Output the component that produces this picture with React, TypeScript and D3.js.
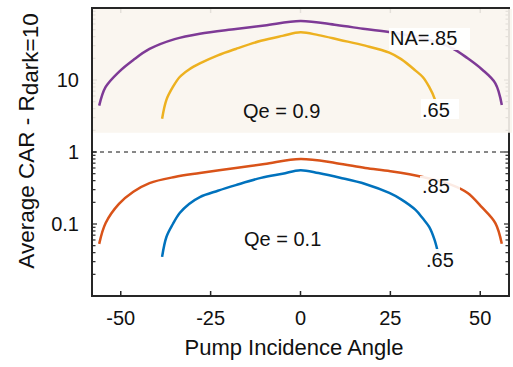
import React from "react";
import { scaleLinear, scaleLog, line, curveCatmullRom } from "d3";

// incidence angles (deg) for the two numerical apertures
const angle85 = [-56, -54.2, -50.5, -46.5, -42, -35, -28, -18, -10, 0, 10, 18, 25, 34, 42, 46.5, 50.5, 54.2, 56];
const angle65 = [-38.5, -37.3, -35.5, -33.6, -31, -28, -23, -18, -11, -5, 0, 5, 11, 18, 24.7, 28, 32, 34, 35.8, 37.3, 38.5];

// average CAR values
const qe09na85 = [4.4, 8.0, 13, 19, 27, 37, 44, 51, 57, 66, 58, 51, 46, 38, 28, 20, 14, 9, 4.5];
const qe09na65 = [2.9, 5.3, 8, 11, 14, 17, 22, 27, 35, 41, 46, 42, 36, 30, 24, 19.5, 13.5, 11, 8, 5.5, 2.9];
const qe01na85 = [0.053, 0.103, 0.19, 0.28, 0.37, 0.45, 0.51, 0.6, 0.68, 0.8, 0.7, 0.6, 0.54, 0.45, 0.35, 0.27, 0.17, 0.103, 0.053];
const qe01na65 = [0.035, 0.066, 0.1, 0.142, 0.19, 0.237, 0.29, 0.347, 0.437, 0.5, 0.56, 0.51, 0.44, 0.36, 0.27, 0.22, 0.157, 0.12, 0.091, 0.06, 0.035];

const xTicks = [-50, -25, 0, 25, 50];
const yTickLabels = [
  { v: 10, label: "10" },
  { v: 1, label: "1" },
  { v: 0.1, label: "0.1" },
];

const font = "'Liberation Sans', Arial, Helvetica, sans-serif";

const App = () => {
  const width = 513;
  const height = 367;
  const left = 92, right = 509, top = 8, bottom = 296;

  const x = scaleLinear().domain([-58, 58]).range([left, right]);
  const y = scaleLog().domain([0.01, 100]).range([bottom, top]);

  const mk = (xs: number[], ys: number[]) =>
    line<number>()
      .x((_, i) => x(xs[i]))
      .y((d) => y(d))
      .curve(curveCatmullRom.alpha(0.5))(ys) || "";

  const series = [
    { xs: angle85, ys: qe09na85, color: "#7E3A96" },
    { xs: angle65, ys: qe09na65, color: "#EDB120" },
    { xs: angle85, ys: qe01na85, color: "#D95319" },
    { xs: angle65, ys: qe01na65, color: "#0072BD" },
  ];

  // log minor ticks
  const minor: number[] = [];
  for (let e = -2; e < 2; e++) {
    for (let k = 1; k <= 9; k++) minor.push(k * Math.pow(10, e));
  }
  minor.push(100);

  const axisColor = "#262626";

  return (
    <svg width={width} height={height} style={{ position: "absolute", left: 0, top: 0 }}>
      <rect width={width} height={height} fill="#fff" />

      {/* frame */}
      <rect x={left} y={top} width={right - left} height={bottom - top} fill="none" stroke={axisColor} strokeWidth={2} />

      {/* ticks */}
      {xTicks.map((t) => (
        <g key={t}>
          <line x1={x(t)} x2={x(t)} y1={bottom} y2={bottom - 5} stroke={axisColor} strokeWidth={1.5} />
          <line x1={x(t)} x2={x(t)} y1={top} y2={top + 5} stroke={axisColor} strokeWidth={1.5} />
          <text x={x(t)} y={325} textAnchor="middle" fontSize={20} fontFamily={font} fill="#111">
            {t}
          </text>
        </g>
      ))}
      {minor.map((v, i) => {
        const major = Math.abs(Math.log10(v) - Math.round(Math.log10(v))) < 1e-9;
        const len = major ? 5 : 3.5;
        return (
          <g key={i}>
            <line x1={left} x2={left + len} y1={y(v)} y2={y(v)} stroke={axisColor} strokeWidth={1.2} />
            <line x1={right} x2={right - len} y1={y(v)} y2={y(v)} stroke={axisColor} strokeWidth={1.2} />
          </g>
        );
      })}

      {/* shaded Qe = 0.9 region */}
      <rect x={left + 1} y={top + 1} width={right - left + 2} height={y(1.85) - top - 1} fill="#FAF5EE" opacity={0.9} />

      {/* dashed line at 1 */}
      <line x1={left} x2={right} y1={y(1)} y2={y(1)} stroke="#111" strokeWidth={1} strokeDasharray="4,4" />

      {yTickLabels.map((t) => (
        <text key={t.label} x={79} y={y(t.v)} dy="0.36em" textAnchor="end" fontSize={20} fontFamily={font} fill="#111">
          {t.label}
        </text>
      ))}

      {/* curves */}
      {series.map((s, i) => (
        <path key={i} d={mk(s.xs, s.ys)} fill="none" stroke={s.color} strokeWidth={2.5} strokeLinejoin="round" />
      ))}

      {/* labels with white boxes */}
      <rect x={389} y={28} width={81} height={22} fill="#fff" opacity={0.92} />
      <text x={390} y={45} fontSize={20} fontFamily={font} fill="#111">NA=.85</text>

      <rect x={421} y={99} width={38} height={20} fill="#fff" opacity={0.95} />
      <text x={422} y={117} fontSize={20} fontFamily={font} fill="#111">.65</text>

      <rect x={420} y={176} width={40} height={21} fill="#fff" opacity={0.88} />
      <text x={422} y={193} fontSize={20} fontFamily={font} fill="#111">.85</text>

      <rect x={425} y={249} width={33} height={21} fill="#fff" opacity={0.95} />
      <text x={426} y={267} fontSize={20} fontFamily={font} fill="#111">.65</text>

      <text x={243} y={118} fontSize={20} fontFamily={font} fill="#111">Qe = 0.9</text>
      <text x={244} y={246} fontSize={20} fontFamily={font} fill="#111">Qe = 0.1</text>

      {/* axis titles */}
      <text x={294} y={355} textAnchor="middle" fontSize={22} fontFamily={font} fill="#111">
        Pump Incidence Angle
      </text>
      <text
        transform={`translate(34, 141) rotate(-90)`}
        textAnchor="middle"
        fontSize={22.5}
        fontFamily={font}
        fill="#111"
      >
        Average CAR - R<tspan dy={4}>dark=10</tspan>
      </text>
    </svg>
  );
};

export default App;
